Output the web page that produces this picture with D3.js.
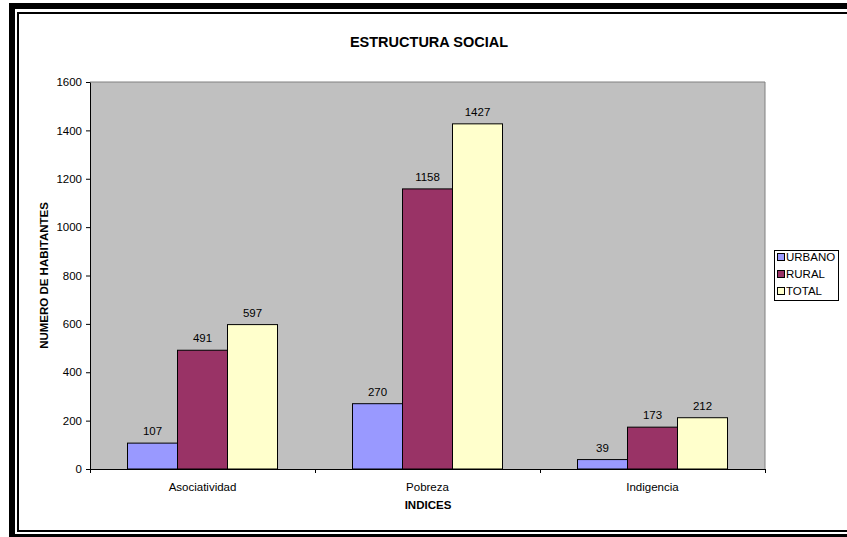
<!DOCTYPE html>
<html><head><meta charset="utf-8">
<script src="https://cdn.jsdelivr.net/npm/d3@7"></script>
<style>body{margin:0;background:#fff}svg{display:block;font-family:"Liberation Sans",Arial,sans-serif}</style>
</head><body><svg id="c" width="847" height="537"></svg>
<script>
const categories = ["Asociatividad","Pobreza","Indigencia"];
const seriesNames = ["URBANO","RURAL","TOTAL"];
const urbano = [107,270,39];
const rural = [491,1158,173];
const total = [597,1427,212];
const yTicks = [0,200,400,600,800,1000,1200,1400,1600];
const colors = ["#9999FF","#993366","#FFFFCC"];
const seriesVals = [urbano, rural, total];

const svg = d3.select("#c");
// frame
svg.append("rect").attr("x",12).attr("y",6).attr("width",900).attr("height",531)
  .attr("fill","none").attr("stroke","#000").attr("stroke-width",6);
svg.append("rect").attr("x",18).attr("y",13).attr("width",900).attr("height",518)
  .attr("fill","none").attr("stroke","#000").attr("stroke-width",2);

const L=90,R=765,T=82,B=469;
const x = d3.scaleBand().domain(categories).range([L,R]).paddingInner(0).paddingOuter(0);
const y = d3.scaleLinear().domain([0,1600]).range([B,T]);

svg.append("rect").attr("x",L).attr("y",T).attr("width",R-L).attr("height",B-T).attr("fill","#C0C0C0");
svg.append("path").attr("d",`M${L},${T}H${R}V${B}`).attr("fill","none").attr("stroke","#808080").attr("stroke-width",1);

// bars
const bw = x.bandwidth()/(3+1.5);
categories.forEach((c,i)=>{
  seriesVals.forEach((vals,s)=>{
    const bx = x(c) + bw*0.75 + s*bw;
    svg.append("rect").attr("x",bx).attr("y",y(vals[i])).attr("width",bw).attr("height",B-y(vals[i]))
      .attr("fill",colors[s]).attr("stroke","#000").attr("stroke-width",1);
    svg.append("text").attr("x",bx+bw/2).attr("y",y(vals[i])-8).attr("text-anchor","middle")
      .attr("font-size","11.5px").attr("fill","#000").text(vals[i]);
  });
});

// y axis
const ya = d3.axisLeft(y).tickValues(yTicks).tickFormat(d3.format("d")).tickSize(4).tickSizeOuter(0).tickPadding(4);
const gy = svg.append("g").attr("transform",`translate(${L},0)`).call(ya);
gy.select(".domain").attr("stroke","#000");
gy.selectAll("text").attr("font-size","11.5px").attr("font-family","Liberation Sans, Arial, sans-serif").attr("fill","#000");

// x axis
const xa = d3.axisBottom(x).tickSize(0).tickPadding(14);
const gx = svg.append("g").attr("transform",`translate(0,${B})`).call(xa);
gx.select(".domain").remove();
gx.selectAll("text").attr("font-size","11.5px").attr("font-family","Liberation Sans, Arial, sans-serif").attr("fill","#000");
svg.append("line").attr("x1",L).attr("x2",R).attr("y1",B+0.5).attr("y2",B+0.5).attr("stroke","#000");
[L, ...categories.slice(1).map(c=>x(c)), R].forEach(v=>{
  svg.append("line").attr("x1",v+0.5).attr("x2",v+0.5).attr("y1",B).attr("y2",B+4).attr("stroke","#000");
});

// titles
svg.append("text").attr("x",429).attr("y",47).attr("text-anchor","middle").attr("font-weight","bold").attr("font-size","14.5px").text("ESTRUCTURA SOCIAL");
svg.append("text").attr("x",428).attr("y",509).attr("text-anchor","middle").attr("font-weight","bold").attr("font-size","11.5px").text("INDICES");
svg.append("text").attr("transform",`translate(48,${(T+B)/2}) rotate(-90)`).attr("text-anchor","middle").attr("font-weight","bold").attr("font-size","11.5px").text("NUMERO DE HABITANTES");

// legend
const lg = svg.append("g");
lg.append("rect").attr("x",774.5).attr("y",250.5).attr("width",64).attr("height",50).attr("fill","#fff").attr("stroke","#000");
seriesNames.forEach((n,i)=>{
  const cy = 257+i*17;
  lg.append("rect").attr("x",777.5).attr("y",cy-3.5).attr("width",7).attr("height",7).attr("fill",colors[i]).attr("stroke","#000");
  lg.append("text").attr("x",786).attr("y",cy+4).attr("font-size","11.5px").text(n);
});
</script></body></html>
